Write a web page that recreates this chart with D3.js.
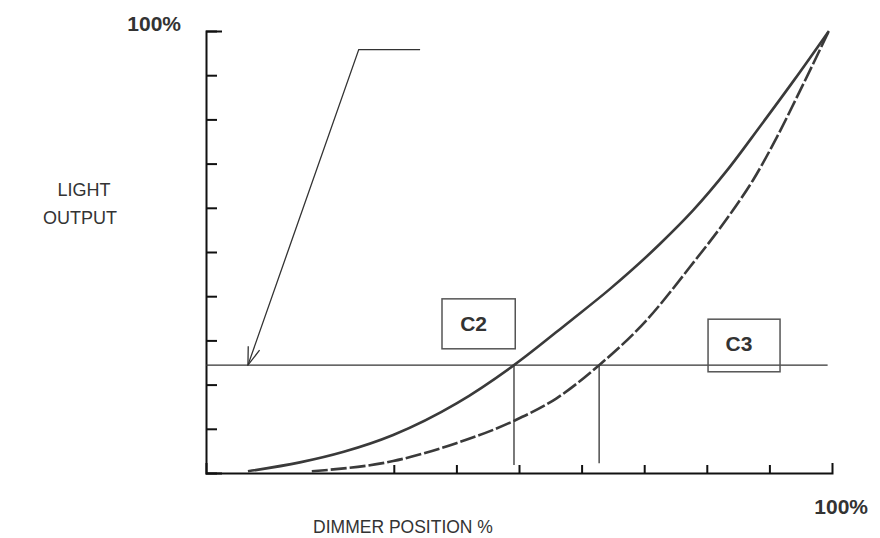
<!DOCTYPE html>
<html>
<head>
<meta charset="utf-8">
<script src="https://cdn.jsdelivr.net/npm/d3@7"></script>
<style>
  body { margin: 0; background: #fff; }
  text { font-family: "Liberation Sans", Arial, Helvetica, sans-serif; fill: #333; }
</style>
</head>
<body>
<script>
// curve C2 (solid) and C3 (dashed), dimmer % vs light output %
const c2Dimmer = [6.7, 15, 22, 29.9, 40.1, 49.2, 58.1, 64.5, 72.5, 77.8, 83.2, 88.5, 94, 99.5];
const c2Light  = [0.4, 2.4, 4.8, 8.6, 15.8, 24.4, 34.3, 41.6, 51.8, 59.4, 68.4, 78.4, 89, 100];
const c3Dimmer = [16.9, 29.9, 40.1, 49.2, 56, 62.8, 70.4, 77.3, 84.2, 87.4, 91.2, 94.9, 99.5];
const c3Light  = [0.4, 2.7, 6.8, 11.8, 16.9, 24.4, 34.6, 46.6, 59.5, 66.3, 76.0, 86.5, 100];

const yTicks = [0, 10, 20, 30, 40, 50, 60, 70, 80, 90, 100];
const xTicks = [30, 40, 50, 60, 70, 80, 90];

const refLevel = 24.4;          // horizontal reference line
const dropX = [49.2, 62.8];     // where each curve crosses the reference
const arrowPts = [[34.2, 95.8], [24.4, 95.8], [6.7, 24.4]];
const boxes = [
  {label: "C2", x0: 37.7, x1: 49.4, y0: 28.1, y1: 39.4},
  {label: "C3", x0: 80.2, x1: 91.7, y0: 22.9, y1: 34.8}
];

const width = 880, height = 538;

const svg = d3.select("body")
    .append("svg")
    .attr("width", width)
    .attr("height", height);

const x = d3.scaleLinear().domain([0, 100]).range([206, 832]);
const y = d3.scaleLinear().domain([0, 100]).range([473, 31]);

svg.append("defs").append("marker")
    .attr("id", "arrow")
    .attr("viewBox", "0 0 20 20")
    .attr("refX", 19).attr("refY", 10)
    .attr("markerWidth", 20).attr("markerHeight", 20)
    .attr("markerUnits", "userSpaceOnUse")
    .attr("orient", "auto")
    .append("path")
    .attr("d", "M1,4 L19,10 L1,16")
    .attr("fill", "none")
    .attr("stroke", "#333")
    .attr("stroke-width", 1.3);

// y axis, ticks pointing into the plot
const yAxis = svg.append("g")
    .attr("transform", `translate(${x(0)},0)`)
    .call(d3.axisRight(y).tickValues(yTicks).tickSize(11).tickSizeOuter(16).tickFormat(""));

// x axis, ticks pointing up
const xAxis = svg.append("g")
    .attr("transform", `translate(0,${y(0)})`)
    .call(d3.axisTop(x).tickValues(xTicks).tickSize(8).tickSizeOuter(10).tickFormat(""));

[yAxis, xAxis].forEach(g => {
  g.selectAll("path, line").attr("stroke", "#111").attr("stroke-width", 2);
});

// reference line
svg.append("line")
    .attr("x1", x(0)).attr("x2", x(99.3))
    .attr("y1", y(refLevel)).attr("y2", y(refLevel))
    .attr("stroke", "#333").attr("stroke-width", 1.3);

svg.selectAll(".drop")
    .data(dropX)
    .join("line")
    .attr("class", "drop")
    .attr("x1", d => x(d)).attr("x2", d => x(d))
    .attr("y1", y(refLevel)).attr("y2", (d, i) => y(i === 0 ? 1.8 : 2.2))
    .attr("stroke", "#333").attr("stroke-width", 1.3);

const line = d3.line()
    .x(d => x(d[0]))
    .y(d => y(d[1]))
    .curve(d3.curveMonotoneX);

svg.append("path")
    .datum(d3.zip(c2Dimmer, c2Light))
    .attr("d", line)
    .attr("fill", "none")
    .attr("stroke", "#3a3a3a")
    .attr("stroke-width", 2.6);

svg.append("path")
    .datum(d3.zip(c3Dimmer, c3Light))
    .attr("d", line)
    .attr("fill", "none")
    .attr("stroke", "#3a3a3a")
    .attr("stroke-width", 2.6)
    .attr("stroke-dasharray", "16,3");

// annotation arrow
svg.append("path")
    .datum(arrowPts)
    .attr("d", d3.line().x(d => x(d[0])).y(d => y(d[1])))
    .attr("fill", "none")
    .attr("stroke", "#333")
    .attr("stroke-width", 1.3)
    .attr("marker-end", "url(#arrow)");

// label boxes
const box = svg.selectAll(".box")
    .data(boxes)
    .join("g")
    .attr("class", "box");

box.append("rect")
    .attr("x", d => x(d.x0))
    .attr("y", d => y(d.y1))
    .attr("width", d => x(d.x1) - x(d.x0))
    .attr("height", d => y(d.y0) - y(d.y1))
    .attr("fill", "none")
    .attr("stroke", "#555")
    .attr("stroke-width", 1.5);

box.append("text")
    .attr("x", d => (x(d.x0) + x(d.x1)) / 2 - 5)
    .attr("y", (d, i) => i === 0 ? 331 : 351)
    .attr("text-anchor", "middle")
    .attr("font-size", 21)
    .attr("font-weight", "bold")
    .text(d => d.label);

// axis labels
svg.append("text")
    .attr("x", 181).attr("y", 31)
    .attr("text-anchor", "end")
    .attr("font-size", 21)
    .attr("font-weight", "bold")
    .text("100%");

svg.append("text")
    .attr("x", 868).attr("y", 514)
    .attr("text-anchor", "end")
    .attr("font-size", 21)
    .attr("font-weight", "bold")
    .text("100%");

svg.append("text")
    .attr("x", 84).attr("y", 196)
    .attr("text-anchor", "middle")
    .attr("font-size", 18)
    .text("LIGHT");

svg.append("text")
    .attr("x", 80).attr("y", 224)
    .attr("text-anchor", "middle")
    .attr("font-size", 18)
    .text("OUTPUT");

svg.append("text")
    .attr("x", 403).attr("y", 533)
    .attr("text-anchor", "middle")
    .attr("font-size", 17.5)
    .text("DIMMER POSITION %");
</script>
</body>
</html>
